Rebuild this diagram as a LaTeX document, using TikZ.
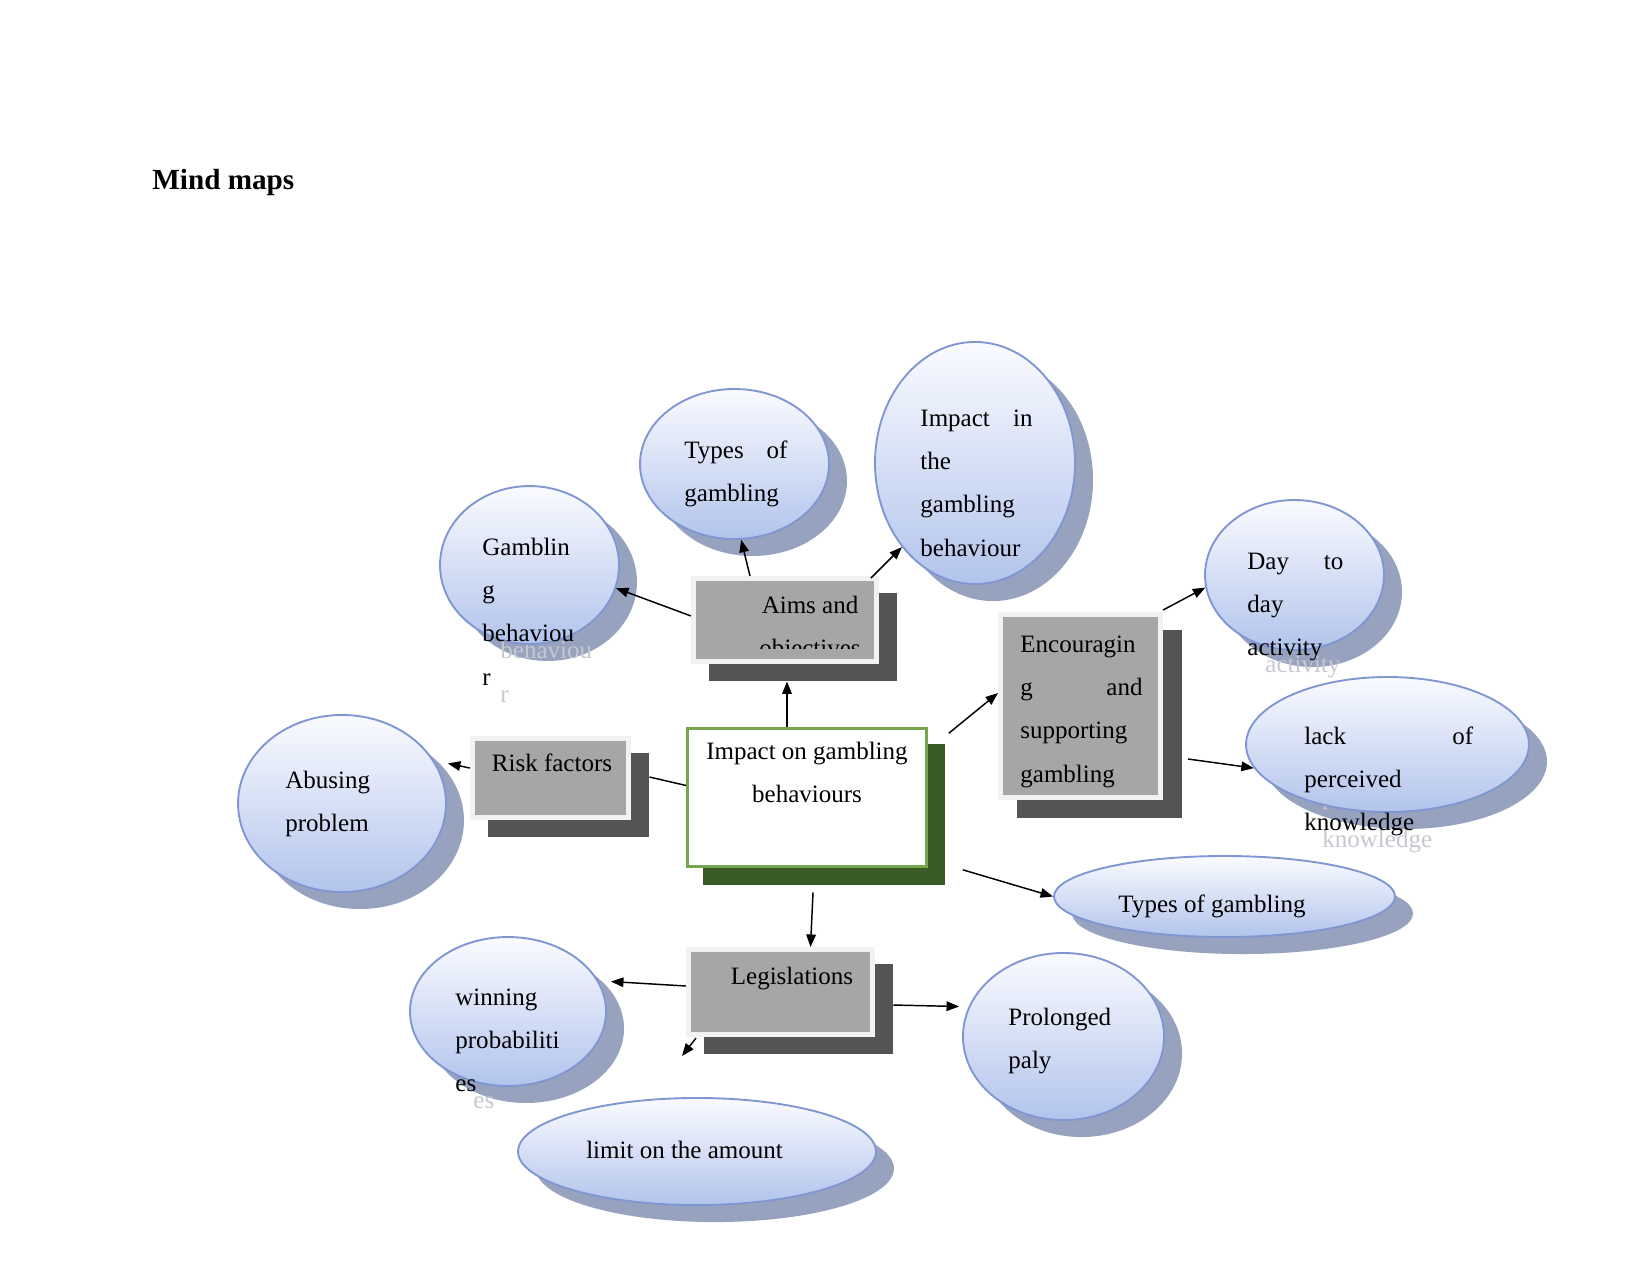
\documentclass[tikz,border=0pt]{standalone}
\usepackage{fontspec}
\setmainfont{Liberation Serif}
\usetikzlibrary{arrows.meta,positioning,calc,shapes.geometric}
\definecolor{bubbleline}{RGB}{128,150,210}
\definecolor{bubbletop}{RGB}{250,251,255}
\definecolor{bubblebot}{RGB}{178,196,236}
\definecolor{bubbleshade}{RGB}{150,162,190}
\definecolor{boxfill}{RGB}{166,166,166}
\definecolor{boxrim}{RGB}{242,242,242}
\definecolor{boxshade}{RGB}{84,84,84}
\definecolor{hubline}{RGB}{118,166,77}
\definecolor{hubshade}{RGB}{58,90,38}
\definecolor{ghost}{RGB}{198,200,208}
\newcommand{\bubblelines}[2]{\parbox[t]{#1}{\baselineskip=20.8pt #2}}

\begin{document}
\begin{tikzpicture}[x=0.48pt, y=-0.48pt,
    every node/.style={font=\fontsize{12}{14}\selectfont, inner sep=0pt},
    bubble/.style={ellipse, draw=bubbleline, line width=0.9pt, top color=bubbletop, bottom color=bubblebot},
    bubbleshadow/.style={ellipse, fill=bubbleshade},
    graybox/.style={rectangle, fill=boxfill, draw=boxrim, line width=2.4pt},
    grayshadow/.style={rectangle, fill=boxshade},
    hubbox/.style={rectangle, fill=white, draw=hubline, line width=1.3pt},
    hubshadow/.style={rectangle, fill=hubshade},
    para/.style={anchor=base west},
    ghostpara/.style={para, text=ghost},
    link/.style={-{Triangle[length=6pt,width=4.6pt]}, line width=0.7pt}]
    \useasboundingbox (0,0) rectangle (1650,1275);
    % Title
    \node[anchor=mid west, font=\fontsize{14}{16}\selectfont\bfseries] (title) at (152,185) {Mind maps};
    % Shadows of the bubbles
    \node[bubbleshadow, minimum width=90.7pt, minimum height=72pt] (kinds-s) at (752.5,481) {};
    \node[bubbleshadow, minimum width=96pt, minimum height=116.2pt] (impactin-s) at (993,480) {};
    \node[bubbleshadow, minimum width=85.9pt, minimum height=75.8pt] (gambbeh-s) at (547.5,582) {};
    \node[bubbleshadow, minimum width=85.9pt, minimum height=72pt] (daily-s) at (1312.5,592) {};
    \node[bubbleshadow, minimum width=135.8pt, minimum height=64.8pt] (lack-s) at (1405.5,761.5) {};
    \node[bubbleshadow, minimum width=163.7pt, minimum height=38.9pt] (kinds2-s) at (1242.5,913.5) {};
    \node[bubbleshadow, minimum width=99.8pt, minimum height=85pt] (abuse-s) at (360,820.5) {};
    \node[bubbleshadow, minimum width=94.1pt, minimum height=71.5pt] (winning-s) at (526,1028.5) {};
    \node[bubbleshadow, minimum width=96.5pt, minimum height=80.2pt] (prolonged-s) at (1081.5,1053.5) {};
    \node[bubbleshadow, minimum width=171.8pt, minimum height=51.4pt] (limit-s) at (715,1168.5) {};
    % Shadows of the boxes
    \node[grayshadow, minimum width=90.2pt, minimum height=42.2pt] (aims-s) at (803,637) {};
    \node[grayshadow, minimum width=79.2pt, minimum height=90.2pt] (encour-s) at (1099,724) {};
    \node[grayshadow, minimum width=77.3pt, minimum height=40.3pt] (risk-s) at (568.5,795) {};
    \node[grayshadow, minimum width=90.7pt, minimum height=43.2pt] (legis-s) at (798.5,1009) {};
    \node[hubshadow, minimum width=116.2pt, minimum height=67.7pt] (hub-s) at (824,814.5) {};
    % Shadow copies of the text that runs out of the bubbles
    \node[ghostpara] (gambbeh-g) at (500,572) {\bubblelines{60pt}{Gamblin\\g\\behaviou\\r}};
    \node[ghostpara] (daily-g) at (1265,586) {\bubblelines{46pt}{Day\hfill to\\day\\activity}};
    \node[ghostpara] (lack-g) at (1322,761) {\bubblelines{81pt}{lack\hfill of\\perceived\\knowledge}};
    \node[ghostpara] (winning-g) at (473,1022) {\bubblelines{60pt}{winning\\probabiliti\\es}};
    % Bubbles
    \node[bubble, minimum width=90.7pt, minimum height=72pt] (kinds) at (734.5,464) {};
    \node[bubble, minimum width=96pt, minimum height=116.2pt] (impactin) at (975,463) {};
    \node[bubble, minimum width=85.9pt, minimum height=75.8pt] (gambbeh) at (529.5,565) {};
    \node[bubble, minimum width=85.9pt, minimum height=72pt] (daily) at (1294.5,575) {};
    \node[bubble, minimum width=135.8pt, minimum height=64.8pt] (lack) at (1387.5,744.5) {};
    \node[bubble, minimum width=163.7pt, minimum height=38.9pt] (kinds2) at (1224.5,896.5) {};
    \node[bubble, minimum width=99.8pt, minimum height=85pt] (abuse) at (342,803.5) {};
    \node[bubble, minimum width=94.1pt, minimum height=71.5pt] (winning) at (508,1011.5) {};
    \node[bubble, minimum width=96.5pt, minimum height=80.2pt] (prolonged) at (1063.5,1036.5) {};
    \node[bubble, minimum width=171.8pt, minimum height=51.4pt] (limit) at (697,1151.5) {};
    % Boxes
    \node[graybox, minimum width=87.8pt, minimum height=39.8pt] (aims) at (785,620) {};
    \node[graybox, minimum width=76.8pt, minimum height=87.8pt] (encour) at (1080.5,706) {};
    \node[graybox, minimum width=74.9pt, minimum height=37.9pt] (risk) at (550.5,778) {};
    \node[graybox, minimum width=88.3pt, minimum height=40.8pt] (legis) at (780.5,992) {};
    \node[hubbox, minimum width=114.7pt, minimum height=66.2pt] (hub) at (807,797.5) {};
    % Bubble texts
    \node[para] (kinds-t) at (684,458) {\bubblelines{49.4pt}{Types\hfill of\\gambling}};
    \node[para] (impactin-t) at (920,426) {\bubblelines{53.8pt}{Impact\hfill in\\the\\gambling\\behaviour}};
    \node[para] (gambbeh-t) at (482,555) {\bubblelines{60pt}{Gamblin\\g\\behaviou\\r}};
    \node[para] (daily-t) at (1247,569) {\bubblelines{46pt}{Day\hfill to\\day\\activity}};
    \node[para] (lack-t) at (1304,744) {\bubblelines{81pt}{lack\hfill of\\perceived\\knowledge}};
    \node[anchor=mid] (kinds2-t) at (1212,908) {Types of gambling};
    \node[para] (abuse-t) at (285,788) {\bubblelines{60pt}{Abusing\\problem}};
    \node[para] (winning-t) at (455,1005) {\bubblelines{60pt}{winning\\probabiliti\\es}};
    \node[para] (prolonged-t) at (1008,1025) {\bubblelines{60pt}{Prolonged\\paly}};
    \node[anchor=mid] (limit-t) at (684.5,1154) {limit on the amount};
    % Box texts
    \begin{scope}
      \clip (aims.north west) rectangle ($(aims.east)+(0,28)$);
      \node[anchor=base] (aims-t) at (810,613) {\bubblelines{100pt}{\centering Aims and\\objectives}};
    \end{scope}
    \node[para] (encour-t) at (1020,652) {\bubblelines{58.6pt}{Encouragin\\g\hfill and\\supporting\\gambling}};
    \node[anchor=mid] (risk-t) at (552,767) {Risk factors};
    \node[anchor=mid] (legis-t) at (792,980) {Legislations};
    \node[anchor=base] (hub-t) at (807,759) {\bubblelines{110pt}{\centering Impact on gambling\\behaviours}};
    % Connectors
    \draw[link] ($(hub.north)+(-20,0)$) -- ($(aims-s.south)+(-16,0)$);
    \draw[link] ($(aims.north)+(-35,0)$) -- (kinds.-85);
    \draw[link] ($(aims.west)+(0,-4)$) -- (gambbeh.-15);
    \draw[link] ($(aims.north east)+(-8,2)$) -- (impactin.229);
    \draw[link] ($(hub.north east)+(21,6)$) -- ($(encour.west)+(0,-13)$);
    \draw[link] ($(encour.north east)+(0,-2)$) -- (daily.188);
    \draw[link] ($(encour.east)+(25,53)$) -- (lack.190);
    \draw[link] ($(hub.south east)+(35,2)$) -- (kinds2.west);
    \draw[line width=0.7pt] ($(hub.west)+(0,-12)$) -- ($(risk-s.east)+(0,-18)$);
    \draw[link] ($(risk.west)+(0,-10)$) -- ($(abuse.east)+(1,-40)$);
    \draw[link] ($(hub-s.south)+(-11,7)$) -- ($(legis.north)+(30,0)$);
    \draw[link] ($(legis.west)+(0,-6)$) -- ($(winning.east)+(4,-30)$);
    \draw[link] ($(legis-s.east)+(0,-4)$) -- ($(prolonged.west)+(-3,-30)$);
    \coordinate (stub) at (682,1056);
    \draw[link] ($(legis.south west)+(10,1)$) -- (stub);
\end{tikzpicture}
\end{document}
